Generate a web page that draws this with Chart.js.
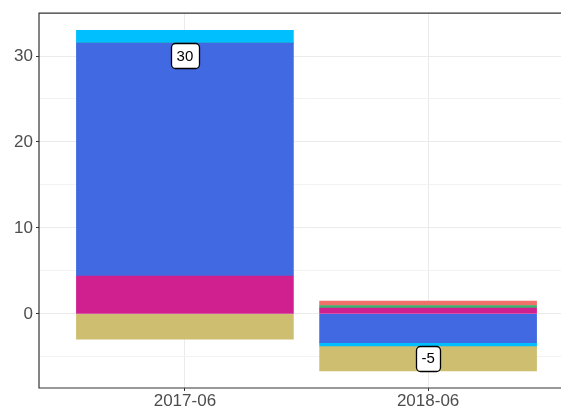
<!DOCTYPE html>
<html>
<head>
<meta charset="utf-8">
<script src="https://cdn.jsdelivr.net/npm/chart.js@4"></script>
<style>
html, body { margin:0; padding:0; overflow:hidden; background:#fff; width:561px; height:410px; }
#wrap { width:561px; height:410px; overflow:hidden; position:relative; }
#c { position:absolute; left:0; top:0; }
</style>
</head>
<body>
<div id="wrap"><canvas id="c" width="600" height="410"></canvas></div>
<script>
const categories = ['2017-06', '2018-06'];
const seriesMagenta = [4.4, 0.66];
const seriesBlue    = [27.1, -3.35];
const seriesGreen   = [0, 0.31];
const seriesCyan    = [1.5, -0.39];
const seriesRed     = [0, 0.51];
const seriesGold    = [-2.95, -2.91];
const yTickStep = 5;

const seriesList = [
  {name:'magenta', values: seriesMagenta, color:'#D02090'},
  {name:'blue', values: seriesBlue, color:'#4169E1'},
  {name:'green', values: seriesGreen, color:'#3CB371'},
  {name:'cyan', values: seriesCyan, color:'#00BFFF'},
  {name:'red', values: seriesRed, color:'#F0706A'},
  {name:'gold', values: seriesGold, color:'#CDBE70'}
];

const totals = categories.map((c, i) => seriesList.reduce((s, d) => s + d.values[i], 0));
const totalLabels = totals.map(t => String(Math.round(t)));

const posTops = categories.map((c,i)=>seriesList.reduce((s,d)=>s+Math.max(0,d.values[i]),0));
const negBots = categories.map((c,i)=>seriesList.reduce((s,d)=>s+Math.min(0,d.values[i]),0));
const dMax = Math.max(...posTops), dMin = Math.min(...negBots);
const ext = (dMax - dMin) * 0.05;

const labelPlugin = {
  id: 'totLabels',
  afterDatasetsDraw(chart) {
    const ctx = chart.ctx, xs = chart.scales.x, ys = chart.scales.y;
    ctx.save();
    ctx.font = '15px "Liberation Sans", Arial, sans-serif';
    ctx.textAlign = 'center';
    ctx.textBaseline = 'middle';
    categories.forEach((c, i) => {
      const x = xs.getPixelForValue(i), y = ys.getPixelForValue(totals[i]);
      const txt = totalLabels[i];
      const w = ctx.measureText(txt).width + 11, h = 25;
      ctx.beginPath();
      ctx.roundRect(Math.round(x - w/2) + 0.5, Math.round(y - h/2) + 0.5, Math.round(w), h, 4);
      ctx.fillStyle = '#ffffff';
      ctx.fill();
      ctx.lineWidth = 1.3;
      ctx.strokeStyle = '#000000';
      ctx.stroke();
      ctx.fillStyle = '#000000';
      ctx.fillText(txt, x, y + 1);
    });
    ctx.restore();
  }
};

const borderPlugin = {
  id: 'panelBorder',
  afterDraw(chart) {
    const a = chart.chartArea, ctx = chart.ctx;
    ctx.save();
    ctx.strokeStyle = '#333333';
    ctx.lineWidth = 1.2;
    ctx.beginPath();
    ctx.moveTo(a.right + 5, a.top);
    ctx.lineTo(a.left, a.top);
    ctx.lineTo(a.left, a.bottom);
    ctx.lineTo(a.right + 5, a.bottom);
    ctx.stroke();
    ctx.restore();
  }
};

new Chart(document.getElementById('c'), {
  type: 'bar',
  data: {
    datasets: seriesList.map(s => ({
      label: s.name,
      data: s.values.map((v, i) => ({x: i, y: v})),
      backgroundColor: s.color,
      borderWidth: 0,
      barThickness: 217
    }))
  },
  options: {
    responsive: false,
    animation: false,
    layout: { padding: { top: 13, right: 26, left: 0, bottom: 0 } },
    plugins: { legend: { display: false }, tooltip: { enabled: false } },
    scales: {
      x: {
        type: 'linear',
        stacked: true,
        offset: false,
        min: -0.6,
        max: categories.length - 1 + 0.6,
        afterBuildTicks(scale) { scale.ticks = categories.map((c, i) => ({value: i})); },
        afterFit(scale) { scale.height = 22; },
        border: { display: false },
        grid: { offset: false, color: '#EBEBEB', lineWidth: 1, tickLength: 3, tickColor: '#333333', drawTicks: true },
        ticks: {
          callback: (v) => categories[v] ?? '',
          color: '#4D4D4D',
          font: { family: '"Liberation Sans", Arial, sans-serif', size: 17 },
          padding: 0,
          maxRotation: 0
        }
      },
      y: {
        stacked: true,
        min: dMin - ext,
        max: dMax + ext,
        afterBuildTicks(scale) {
          const t = [];
          for (let v = Math.ceil(scale.min / yTickStep) * yTickStep; v <= scale.max; v += yTickStep) t.push({value: v});
          scale.ticks = t;
        },
        afterFit(scale) { scale.width = 39; },
        border: { display: false },
        grid: {
          color: (c) => (c.tick && c.tick.value % 10 === 0) ? '#EBEBEB' : '#F2F2F2',
          lineWidth: 1,
          tickLength: 3,
          tickColor: (c) => (c.tick && c.tick.value % 10 === 0) ? '#333333' : 'rgba(0,0,0,0)'
        },
        ticks: {
          callback: (v) => (v % 10 === 0 ? String(v) : ''),
          color: '#4D4D4D',
          font: { family: '"Liberation Sans", Arial, sans-serif', size: 17 },
          padding: 3
        }
      }
    }
  },
  plugins: [labelPlugin, borderPlugin]
});
</script>
</body>
</html>
